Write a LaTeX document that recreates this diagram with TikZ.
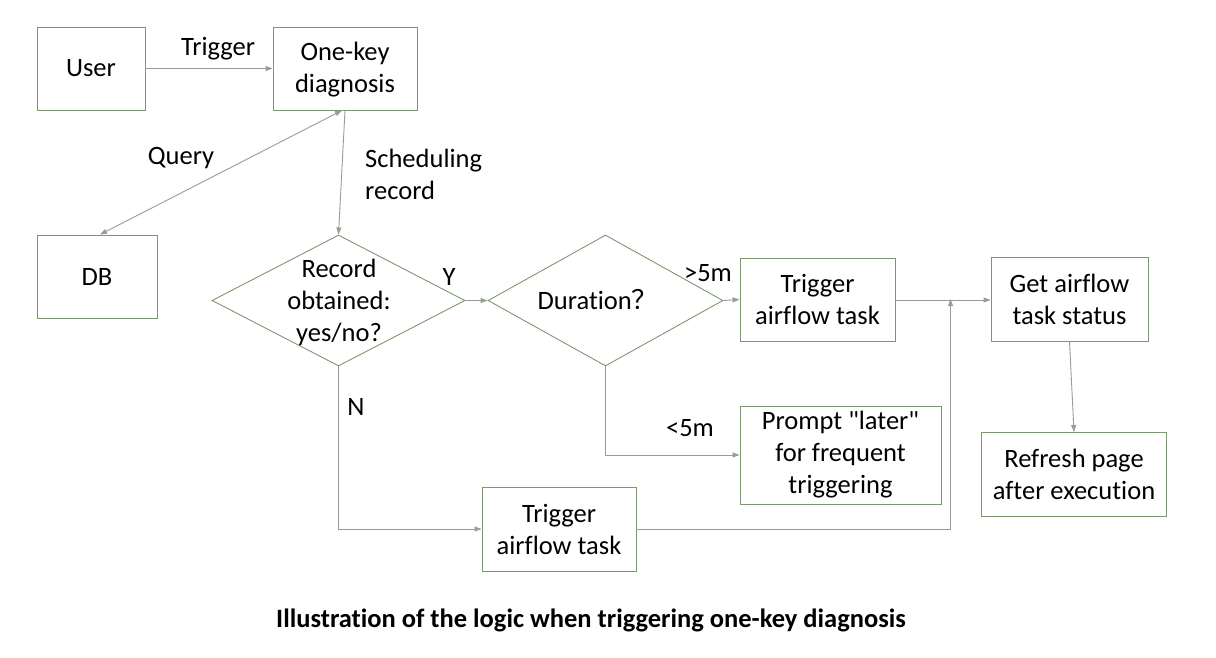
\documentclass[tikz,border=0pt]{standalone}
\usepackage{fontspec}
\setmainfont[Ligatures=NoCommon]{Carlito}
\newfontfamily\plainq[Ligatures=ResetAll]{Carlito}
\newfontfamily\cjkfont{Noto Sans CJK SC}
\usetikzlibrary{shapes.geometric,arrows.meta}
\definecolor{boxc}{RGB}{125,152,112}
\definecolor{arrc}{RGB}{150,158,150}
\newcommand\dfont{\fontsize{26.5}{32}\selectfont}
\newcommand\sq{{\plainq\char34}}
\begin{document}
\begin{tikzpicture}[x=1pt,y=-1pt,
  box/.style={draw=boxc, line width=0.9pt, align=center, font=\dfont, inner sep=0pt},
  dia/.style={draw=boxc, line width=0.9pt, shape=diamond, inner sep=0pt},
  txt/.style={font=\dfont, align=center, inner sep=0pt},
  conn/.style={draw=arrc, line width=0.9pt, -{Triangle[length=7pt,width=5pt]}},
  line/.style={draw=arrc, line width=0.9pt}]
\useasboundingbox[fill=white] (0,0) rectangle (1216,658);

\node[box, minimum width=108pt, minimum height=83pt] (user) at (91,68.5) {User};
\node[box, minimum width=144pt, minimum height=83pt] (onekey) at (345,68.5) {};
\node[txt] (onekeyt) at (345,70) {One-key\\diagnosis};
\node[box, minimum width=120pt, minimum height=83pt] (db) at (97,276.5) {DB};
\node[dia, minimum width=253pt, minimum height=131pt] (d1) at (338.5,300.5) {};
\node[txt] (d1t) at (339,302) {Record\\obtained:\\yes/no?};
\node[dia, minimum width=235pt, minimum height=131pt] (d2) at (605.5,300.5) {};
\node[txt] (d2t) at (598,300) {Duration{\cjkfont ？}};
\node[box, minimum width=155pt, minimum height=83pt] (trig1) at (817.5,299.5) {Trigger\\airflow task};
\node[box, minimum width=157pt, minimum height=84pt] (status) at (1069.5,299) {Get airflow\\task status};
\node[box, minimum width=185pt, minimum height=84pt] (refresh) at (1074,474.5) {Refresh page\\after execution};
\node[box, minimum width=201pt, minimum height=98pt] (prompt) at (840.5,455) {Prompt \sq later\sq\\for frequent\\triggering};
\node[box, minimum width=154pt, minimum height=84pt] (trig2) at (559,529) {Trigger\\airflow task};

% labels
\node[txt] (ltrig) at (218,49) {Trigger};
\node[txt] (lquery) at (181,158) {Query};
\node[txt, anchor=west, align=left] (lsched) at (365,174) {Scheduling\\record};
\node[txt] (ly) at (449,277) {Y};
\node[txt] (lgt) at (708,273) {>5m};
\node[txt] (ln) at (356,407) {N};
\node[txt] (llt) at (690,428) {<5m};
\node[font=\fontsize{26.5}{30}\selectfont\bfseries, inner sep=0pt] (caption) at (591,620) {Illustration of the logic when triggering one-key diagnosis};

% connectors
\coordinate (j) at (950.5,300);
\draw[conn] (user) -- (onekey);
\draw[conn, {Triangle[length=7pt,width=5pt]}-{Triangle[length=7pt,width=5pt]}] ([xshift=-3pt]onekey.south) -- ([xshift=3pt]db.north);
\draw[conn] (onekey.south) -- (d1.north);
\draw[conn] (d1.east) -- (d2.west);
\draw[conn] (d2.east) -- (trig1.west);
\draw[conn] (trig1.east |- j) -- (status.west |- j);
\draw[conn] (trig2.east) -| ([yshift=1pt]j);
\draw[conn] (d1.south) |- (trig2.west);
\draw[conn] (d2.south) |- (prompt.west);
\draw[conn] (status.south) -- (refresh.north);
\end{tikzpicture}
\end{document}
